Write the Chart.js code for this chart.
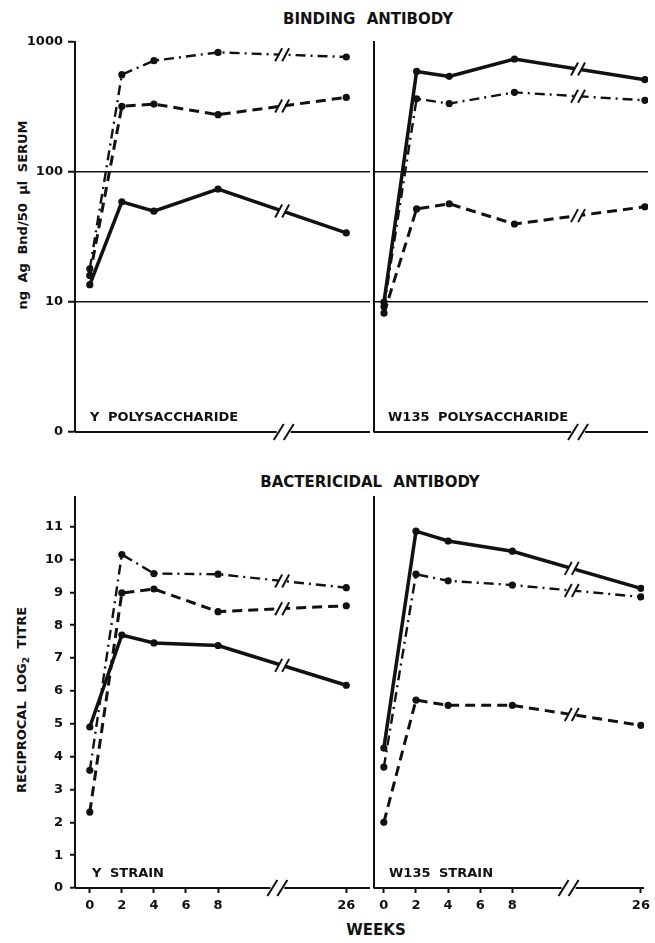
<!DOCTYPE html>
<html>
<head>
<meta charset="utf-8">
<script src="https://cdn.jsdelivr.net/npm/chart.js@4.4.0/dist/chart.umd.min.js"></script>
<style>
  html, body { margin: 0; padding: 0; background: #fff; }
  #page { position: relative; width: 655px; height: 943px; overflow: hidden;
          font-family: "DejaVu Sans", sans-serif; font-weight: bold; color: #111; }
  .panel { position: absolute; }
  .txt { position: absolute; white-space: nowrap; line-height: 1; }
  .mid { transform: translate(-50%, -50%); }
  .rot { transform: translate(-50%, -50%) rotate(-90deg); }
  .head { font-size: 15px; word-spacing: 6px; }
  .lab { font-size: 13px; word-spacing: 4px; transform: translateY(-50%); }
  .ytitle { font-size: 13px; word-spacing: 4px; }
  sub { font-size: 9px; vertical-align: -3px; }
</style>
</head>
<body>
<div id="page">
  <div class="txt mid head" style="left:368px; top:19px">BINDING ANTIBODY</div>
  <div class="txt mid head" style="left:370px; top:482px">BACTERICIDAL ANTIBODY</div>
  <div class="txt mid head" style="left:376px; top:930px">WEEKS</div>
  <div class="txt rot ytitle" style="left:22px; top:215px">ng Ag Bnd/50 μl SERUM</div>
  <div class="txt rot ytitle" style="left:23px; top:700px">RECIPROCAL LOG<sub>2</sub> TITRE</div>

  <div class="panel" style="left:0; top:0; width:374px; height:450px"><canvas id="topLeft"></canvas></div>
  <div class="panel" style="left:364px; top:0; width:291px; height:450px"><canvas id="topRight"></canvas></div>
  <div class="panel" style="left:0; top:460px; width:374px; height:483px"><canvas id="botLeft"></canvas></div>
  <div class="panel" style="left:364px; top:460px; width:291px; height:483px"><canvas id="botRight"></canvas></div>

  <div class="txt lab" style="left:90px; top:416px">Y POLYSACCHARIDE</div>
  <div class="txt lab" style="left:388px; top:416px">W135 POLYSACCHARIDE</div>
  <div class="txt lab" style="left:92px; top:872px">Y STRAIN</div>
  <div class="txt lab" style="left:389px; top:872px">W135 STRAIN</div>
</div>
<script>
// sampling weeks and axis ticks
const weeks = [0, 2, 4, 8, 26];
const weekTicks = [0, 2, 4, 6, 8, 26];
const logTicks = [1, 10, 100, 1000];
const titreTicks = [0, 1, 2, 3, 4, 5, 6, 7, 8, 9, 10, 11];

// binding antibody (ng Ag bound / 50 µl serum)
const yPolySolid   = [13.6, 59, 50, 74, 34];
const yPolyDashed  = [16, 320, 333, 276, 375];
const yPolyDashDot = [18, 561, 718, 832, 767];
const wPolySolid   = [10, 594, 544, 740, 513];
const wPolyDashed  = [8.2, 52, 57, 39.8, 54];
const wPolyDashDot = [9.2, 366, 336, 410, 356];

// bactericidal antibody (reciprocal log2 titre)
const yStrainSolid   = [4.9, 7.7, 7.46, 7.38, 6.17];
const yStrainDashed  = [2.31, 8.98, 9.1, 8.41, 8.59];
const yStrainDashDot = [3.58, 10.15, 9.57, 9.55, 9.14];
const wStrainSolid   = [4.26, 10.86, 10.56, 10.25, 9.12];
const wStrainDashed  = [2.0, 5.72, 5.56, 5.56, 4.95];
const wStrainDashDot = [3.68, 9.55, 9.35, 9.22, 8.86];

// the axis is broken after week 8: week 26 sits at position 16
const POS_26 = 16;
const axisPos = w => (w === 26 ? POS_26 : w);

const INK = '#111';
const tickFont = { family: 'DejaVu Sans', weight: 'bold', size: 13 };

const styles = {
  solid:   { borderWidth: 3.5, borderDash: [] },
  dashed:  { borderWidth: 3,   borderDash: [10, 6] },
  dashDot: { borderWidth: 2.4, borderDash: [10, 5, 2, 5] }
};

function series(values, style) {
  return {
    data: weeks.map((w, i) => ({ x: axisPos(w), y: values[i] })),
    borderColor: INK,
    backgroundColor: INK,
    borderWidth: style.borderWidth,
    borderDash: style.borderDash,
    pointRadius: 3.6,
    pointBorderWidth: 0,
    pointBackgroundColor: INK,
    tension: 0
  };
}

function slashes(ctx, cx, cy, h, w, gap) {
  ctx.beginPath();
  ctx.moveTo(cx - gap / 2 - w / 2, cy + h / 2);
  ctx.lineTo(cx - gap / 2 + w / 2, cy - h / 2);
  ctx.moveTo(cx + gap / 2 - w / 2, cy + h / 2);
  ctx.lineTo(cx + gap / 2 + w / 2, cy - h / 2);
  ctx.stroke();
}

// bottom axis line with its break, and the break marks on each line
const breakPlugin = {
  id: 'breaks',
  afterDraw(chart, args, opts) {
    const { ctx, chartArea } = chart;
    const x = chart.scales.x;
    ctx.save();
    ctx.strokeStyle = INK;
    ctx.lineCap = 'butt';

    const yb = chartArea.bottom;
    const xb = x.getPixelForValue(opts.axisBreak);
    ctx.lineWidth = 2;
    ctx.beginPath();
    ctx.moveTo(chartArea.left, yb);
    ctx.lineTo(xb - 7, yb);
    ctx.moveTo(xb + 7, yb);
    ctx.lineTo(chartArea.right, yb);
    ctx.stroke();
    slashes(ctx, xb, yb, 16, 10, 10);

    const xl = x.getPixelForValue(opts.lineBreak);
    chart.data.datasets.forEach((ds, i) => {
      const pts = chart.getDatasetMeta(i).data;
      const a = pts[pts.length - 2], b = pts[pts.length - 1];
      const lerp = px => a.y + (px - a.x) / (b.x - a.x) * (b.y - a.y);
      ctx.strokeStyle = '#fff';
      ctx.lineWidth = 7;
      ctx.beginPath();
      ctx.moveTo(xl - 3, lerp(xl - 3));
      ctx.lineTo(xl + 3, lerp(xl + 3));
      ctx.stroke();
      ctx.strokeStyle = INK;
      ctx.lineWidth = 2;
      slashes(ctx, xl, lerp(xl), 13, 7, 7);
    });
    ctx.restore();
  }
};

function makeChart(id, cfg) {
  const isLog = cfg.log;
  const yTicks = isLog ? logTicks : titreTicks;
  const yScale = {
    type: isLog ? 'logarithmic' : 'linear',
    min: isLog ? 1 : 0,
    max: isLog ? 1000 : 11.9,
    afterBuildTicks: s => { s.ticks = yTicks.map(v => ({ value: v })); },
    afterFit: s => { s.width = cfg.yWidth; },
    ticks: {
      display: cfg.yLabels,
      callback: v => (isLog && v === 1 ? '0' : String(v)),
      font: tickFont,
      color: INK,
      padding: isLog ? 5 : 7
    },
    grid: {
      color: c => (isLog && c.tick && (c.tick.value === 10 || c.tick.value === 100)) ? INK : 'rgba(0,0,0,0)',
      lineWidth: 1.5,
      drawTicks: cfg.yLabels,
      tickLength: isLog ? 7 : 5,
      tickColor: INK,
      tickWidth: 2
    },
    border: { display: true, color: INK, width: 2 }
  };
  const xScale = {
    type: 'linear',
    min: cfg.xMin,
    max: cfg.xMax,
    display: cfg.xLabels,
    afterBuildTicks: s => { s.ticks = weekTicks.map(w => ({ value: axisPos(w) })); },
    afterFit: s => { s.height = cfg.xLabels ? 30 : 0; },
    ticks: {
      callback: (v, i) => String(weekTicks[i]),
      autoSkip: false,
      maxRotation: 0,
      font: tickFont,
      color: INK,
      padding: 5
    },
    grid: {
      drawOnChartArea: false,
      drawTicks: true,
      tickLength: 5,
      tickColor: INK,
      tickWidth: 2,
      color: INK
    },
    border: { display: false }
  };
  return new Chart(document.getElementById(id), {
    type: 'line',
    data: { datasets: cfg.datasets },
    options: {
      responsive: true,
      maintainAspectRatio: false,
      animation: false,
      layout: { padding: cfg.padding },
      scales: { x: xScale, y: yScale },
      plugins: {
        legend: { display: false },
        tooltip: { enabled: false },
        breaks: { axisBreak: cfg.axisBreak, lineBreak: cfg.lineBreak }
      }
    },
    plugins: [breakPlugin]
  });
}

makeChart('topLeft', {
  log: true, yWidth: 75, yLabels: true, xLabels: false,
  xMin: -0.923, xMax: 17.48, axisBreak: 12.1, lineBreak: 12,
  padding: { left: 0, right: 0, top: 42, bottom: 18 },
  datasets: [series(yPolySolid, styles.solid), series(yPolyDashed, styles.dashed), series(yPolyDashDot, styles.dashDot)]
});
makeChart('topRight', {
  log: true, yWidth: 10, yLabels: false, xLabels: false,
  xMin: -0.613, xMax: 16.19, axisBreak: 11.9, lineBreak: 11.9,
  padding: { left: 0, right: 7, top: 42, bottom: 18 },
  datasets: [series(wPolySolid, styles.solid), series(wPolyDashed, styles.dashed), series(wPolyDashDot, styles.dashDot)]
});
makeChart('botLeft', {
  log: false, yWidth: 75, yLabels: true, xLabels: true,
  xMin: -0.923, xMax: 17.48, axisBreak: 11.7, lineBreak: 12,
  padding: { left: 0, right: 0, top: 37, bottom: 25 },
  datasets: [series(yStrainSolid, styles.solid), series(yStrainDashed, styles.dashed), series(yStrainDashDot, styles.dashDot)]
});
makeChart('botRight', {
  log: false, yWidth: 10, yLabels: false, xLabels: true,
  xMin: -0.613, xMax: 16.19, axisBreak: 11.5, lineBreak: 11.7,
  padding: { left: 0, right: 7, top: 37, bottom: 25 },
  datasets: [series(wStrainSolid, styles.solid), series(wStrainDashed, styles.dashed), series(wStrainDashDot, styles.dashDot)]
});
</script>
</body>
</html>
